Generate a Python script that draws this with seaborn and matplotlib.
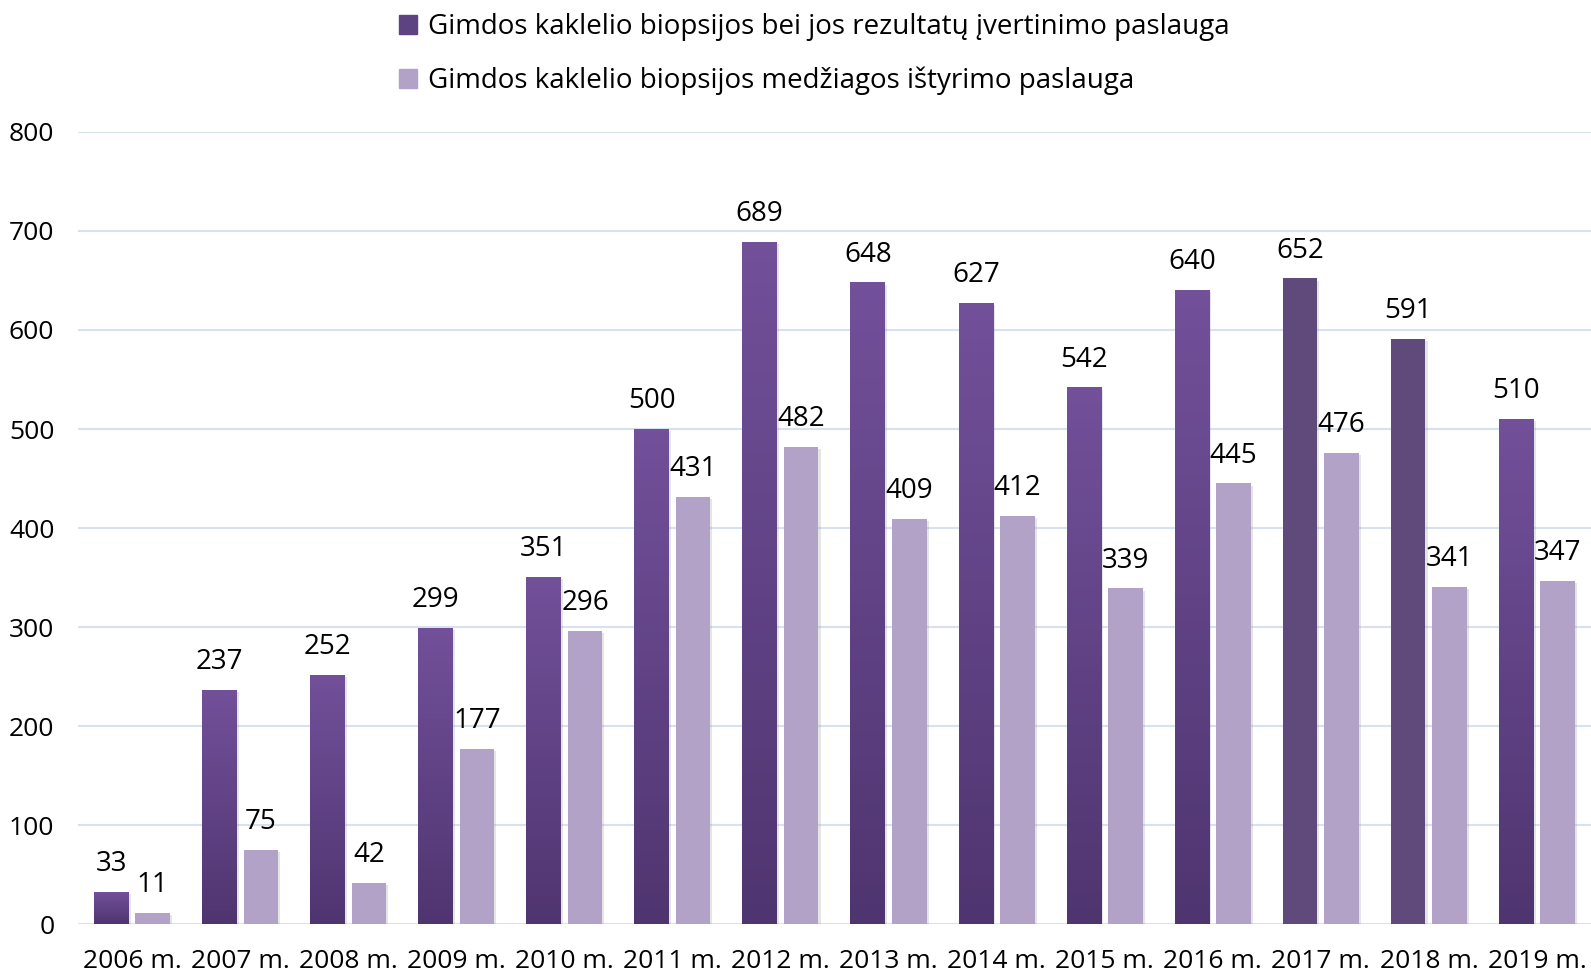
import numpy as np
import pandas as pd
import seaborn as sns
import matplotlib.pyplot as plt
from matplotlib.colors import LinearSegmentedColormap
from matplotlib import patheffects as pe

years = ['2006 m.', '2007 m.', '2008 m.', '2009 m.', '2010 m.', '2011 m.', '2012 m.',
         '2013 m.', '2014 m.', '2015 m.', '2016 m.', '2017 m.', '2018 m.', '2019 m.']
evaluation = [33, 237, 252, 299, 351, 500, 689, 648, 627, 542, 640, 652, 591, 510]
examination = [11, 75, 42, 177, 296, 431, 482, 409, 412, 339, 445, 476, 341, 347]

label_eval = 'Gimdos kaklelio biopsijos bei jos rezultatų įvertinimo paslauga'
label_exam = 'Gimdos kaklelio biopsijos medžiagos ištyrimo paslauga'

df = pd.DataFrame({
    'year': years * 2,
    'value': evaluation + examination,
    'service': [label_eval] * len(years) + [label_exam] * len(years),
})

sns.set_theme(style='white')
plt.rcParams['font.family'] = ['Open Sans', 'DejaVu Sans']
plt.rcParams['text.color'] = 'black'
plt.rcParams['xtick.color'] = 'black'
plt.rcParams['ytick.color'] = 'black'

dark = '#5F4A7B'
light = '#B2A2C8'
grid_col = '#D6E2F0'

fig = plt.figure(figsize=(15.91, 9.77), dpi=100)
ax = fig.add_axes([0.049, 0.054, 0.951, 0.811])

sns.barplot(data=df, x='year', y='value', hue='service',
            hue_order=[label_eval, label_exam], palette=[dark, light], saturation=1,
            width=0.768, gap=0.167, ax=ax, legend=False, linewidth=0)

ax.set_ylim(0, 800)
ax.set_xlim(-0.5, len(years) - 0.5)
ax.set_yticks(range(0, 801, 100))
ax.yaxis.grid(True, color=grid_col, linewidth=1.5)
ax.set_axisbelow(True)
for s in ax.spines.values():
    s.set_visible(False)
ax.set_xlabel('')
ax.set_ylabel('')
ax.tick_params(axis='y', labelsize=19, pad=17, length=0)
ax.tick_params(axis='x', labelsize=19, pad=18, length=0)

# soft shadow on every bar
shadow = [pe.SimplePatchShadow(offset=(1.5, -1.5), shadow_rgbFace='#999999', alpha=0.25), pe.Normal()]
for c in ax.containers:
    for p in c:
        p.set_path_effects(shadow)

# vertical gradient on the dark bars (2017 and 2018 are flat)
grad = LinearSegmentedColormap.from_list('g', ['#4F3570', '#72509A'])
for i, p in enumerate(ax.containers[0]):
    if years[i] in ('2017 m.', '2018 m.'):
        continue
    x0, y0 = p.get_x(), p.get_y()
    w, h = p.get_width(), p.get_height()
    im = ax.imshow(np.linspace(0, 1, 100).reshape(-1, 1), cmap=grad, origin='lower',
                   extent=(x0, x0 + w, y0, y0 + h), aspect='auto', zorder=p.get_zorder() + 0.1)
    im.set_clip_path(p)

ax.set_ylim(0, 800)
ax.set_xlim(-0.5, len(years) - 0.5)

for c in ax.containers:
    ax.bar_label(c, fontsize=20, padding=10)

handles = [plt.Rectangle((0, 0), 1, 1, color='#5E4282'), plt.Rectangle((0, 0), 1, 1, color=light)]
fig.legend(handles, [label_eval, label_exam], loc='upper left',
           bbox_to_anchor=(0.237, 1.009), frameon=False, fontsize=20,
           handlelength=0.65, handleheight=0.65, handletextpad=0.4, labelspacing=0.92,
           borderpad=0.3)

fig.savefig('out.png', dpi=100)
